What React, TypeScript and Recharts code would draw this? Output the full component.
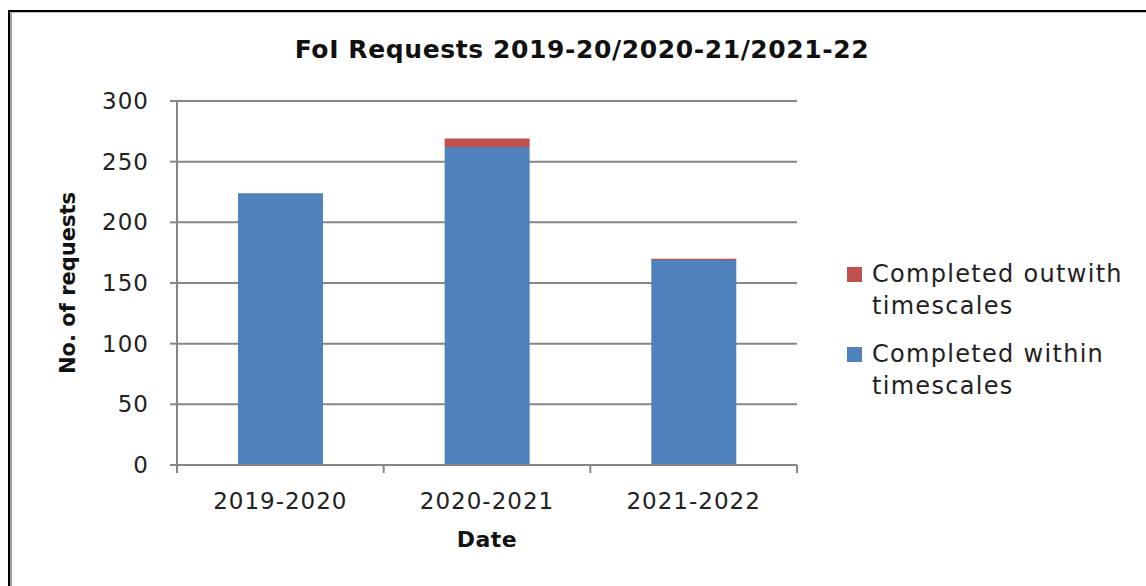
import React from 'react';
import { BarChart, Bar, XAxis, YAxis, CartesianGrid, Label } from 'recharts';

const years = ['2019-2020', '2020-2021', '2021-2022'];
const within = [224, 262, 169];
const outwith = [0, 7, 1];
const yTicks = [0, 50, 100, 150, 200, 250, 300];

const seriesNames = { within: 'Completed within timescales', outwith: 'Completed outwith timescales' };
const seriesColors = { within: '#4f81bd', outwith: '#c0504d' };

const data = years.map((year, i) => ({ year, within: within[i], outwith: outwith[i] }));

const font = '"DejaVu Sans", Verdana, sans-serif';
const gridColor = '#868686';

// category tick: label in the middle, tick marks on the band edges (Excel style)
function BandTick(props: any) {
  const { x, y, payload, index, visibleTicksCount, width } = props;
  const band = width && visibleTicksCount ? width / visibleTicksCount : 206.7;
  const axisY = 465;
  const left = x - band / 2;
  const right = x + band / 2;
  return (
    <g>
      <line x1={left} x2={left} y1={axisY} y2={axisY + 8} stroke={gridColor} strokeWidth={2} />
      {index === visibleTicksCount - 1 && (
        <line x1={right} x2={right} y1={axisY} y2={axisY + 8} stroke={gridColor} strokeWidth={2} />
      )}
      <text x={x} y={y} dy="0.71em" textAnchor="middle" fontSize={23} letterSpacing={1} fill="#222" fontFamily={font}>
        {payload.value}
      </text>
    </g>
  );
}

export default function App() {
  // stacked series read top-down in the legend
  const legendItems = [
    { name: seriesNames.outwith, color: seriesColors.outwith },
    { name: seriesNames.within, color: seriesColors.within },
  ];
  return (
    <div style={{ position: 'fixed', left: 0, top: 0, width: 1146, height: 586, overflow: 'hidden', background: '#fff' }}>
      {/* chart frame: only its left and top edges fall inside the picture */}
      <div style={{ position: 'absolute', left: 8, top: 10, width: 2, height: 576, background: '#000' }} />
      <div style={{ position: 'absolute', left: 8, top: 10, width: 1138, height: 2, background: '#000' }} />
      <div style={{ position: 'absolute', left: 10, top: 12, width: 2, height: 574, background: '#a0a0a0' }} />
      <div style={{ position: 'absolute', left: 10, top: 12, width: 1136, height: 1, background: '#c0c0c0' }} />
      <div style={{ position: 'absolute', left: 0, top: 35, width: 1164, textAlign: 'center', fontFamily: font, fontWeight: 'bold', fontSize: 25, letterSpacing: 0.6, color: '#111' }}>
        FoI Requests 2019-20/2020-21/2021-22
      </div>
      <BarChart
        width={1146}
        height={586}
        data={data}
        barCategoryGap="29.5%"
        margin={{ top: 101, right: 349, bottom: 0, left: 0 }}
        style={{ position: 'absolute', left: 0, top: 0 }}
      >
        <CartesianGrid vertical={false} stroke={gridColor} strokeWidth={2} />
        <XAxis
          dataKey="year"
          stroke={gridColor}
          strokeWidth={2}
          tickLine={false}
          tickSize={6}
          tick={<BandTick />}
          tickMargin={22}
          height={121}
        >
          <Label value="Date" position="insideTop" offset={66} style={{ fontSize: 22, fontWeight: 'bold', letterSpacing: 0.5, fill: '#111', fontFamily: font }} />
        </XAxis>
        <YAxis
          domain={[0, 300]}
          ticks={yTicks}
          interval={0}
          stroke={gridColor}
          strokeWidth={2}
          tickSize={7}
          tick={{ fontSize: 23, letterSpacing: 1, fill: '#222', fontFamily: font }}
          tickMargin={21}
          width={177}
        >
          <Label value="No. of requests" angle={-90} position="insideLeft" offset={68} style={{ textAnchor: 'middle', fontSize: 21, fontWeight: 'bold', fill: '#111', fontFamily: font }} />
        </YAxis>
        <Bar dataKey="within" name={seriesNames.within} stackId="a" fill={seriesColors.within} isAnimationActive={false} />
        <Bar dataKey="outwith" name={seriesNames.outwith} stackId="a" fill={seriesColors.outwith} isAnimationActive={false} />
      </BarChart>
      <div style={{ position: 'absolute', left: 847, top: 258, width: 290, fontFamily: font, fontSize: 24, letterSpacing: 1.3, color: '#222', lineHeight: '32px' }}>
        {legendItems.map((p) => (
          <div key={p.name} style={{ display: 'flex', alignItems: 'flex-start', marginBottom: 16 }}>
            <span style={{ display: 'inline-block', width: 15, height: 15, background: p.color, marginTop: 9, marginRight: 10, flex: 'none' }} />
            <span style={{ width: 262 }}>{p.name}</span>
          </div>
        ))}
      </div>
    </div>
  );
}
